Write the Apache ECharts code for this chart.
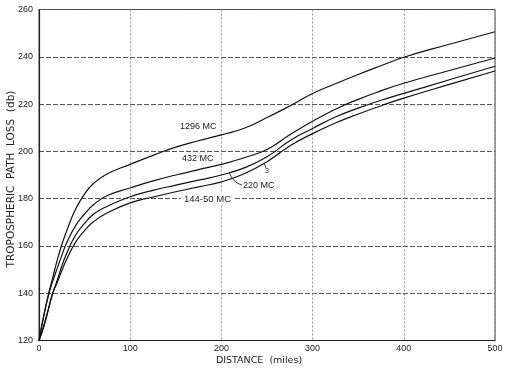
<!DOCTYPE html>
<html>
<head>
<meta charset="utf-8">
<script src="https://cdn.jsdelivr.net/npm/echarts@6/dist/echarts.min.js"></script>
<style>html,body{margin:0;padding:0;background:#fff}#c{width:506px;height:371px}</style>
</head>
<body>
<div id="c"></div>
<script>
// Distance (miles) sample points
const distance = [0, 5, 10, 15, 20, 25, 30, 40, 50, 60, 75, 100, 125, 150, 175, 200, 225, 250, 275, 300, 325, 350, 375, 400, 450, 500];
// Tropospheric path loss (db)
const loss1296 = [120, 130, 139, 146.5, 154, 160.5, 166, 175.5, 182, 186.5, 190.5, 194.5, 198.3, 201.8, 204.5, 207, 209.8, 214.3, 219.2, 224.5, 228.6, 232.5, 236.2, 239.8, 245.3, 250.6];
const loss432  = [120, 130, 138.5, 145, 150.5, 156, 161, 168.5, 173.5, 177.5, 181.3, 184.5, 187.5, 190, 192.3, 194.5, 197.3, 200.8, 207, 212.7, 217.8, 222, 225.6, 228.8, 234.2, 239.5];
const loss220  = [120, 126, 133, 140, 145.5, 151.5, 156.5, 164.5, 169.5, 173.5, 176.8, 180.8, 183.5, 185.7, 187.8, 190, 193, 197.7, 204.5, 209.7, 214.5, 218.3, 221.6, 224.5, 230.3, 236];
const loss144  = [120, 125.5, 132.5, 140, 144.5, 149.5, 154, 161.5, 166.5, 170.3, 174, 178.2, 180.7, 182.9, 185, 187.1, 190.5, 195.6, 202.3, 207.5, 212, 215.8, 219.3, 222.5, 228.3, 234];
const xTicks = [0, 100, 200, 300, 400, 500];
const yTicks = [120, 140, 160, 180, 200, 220, 240, 260];
const seriesNames = ['1296 MC', '432 MC', '220 MC', '144-50 MC'];
const xTitle = 'DISTANCE  (miles)';
const yTitle = 'TROPOSPHERIC  PATH  LOSS  (db)';

const pairs = ys => distance.map((d, i) => [d, ys[i]]);
const all = [loss1296, loss432, loss220, loss144];

const chart = echarts.init(document.getElementById('c'), null, {renderer: 'canvas'});
const txt = '#222';
chart.setOption({
  animation: false,
  backgroundColor: '#fff',
  grid: {left: 39, top: 9.5, width: 456, height: 331, show: true, borderColor: '#444', borderWidth: 1},
  xAxis: {
    type: 'value', min: xTicks[0], max: xTicks[xTicks.length - 1], interval: 100,
    axisLine: {show: true, lineStyle: {color: '#222', width: 1.2}},
    axisTick: {show: false},
    axisLabel: {margin: 4, fontFamily: 'Liberation Sans', fontSize: 9, color: txt},
    splitLine: {show: true, lineStyle: {color: '#888', width: 0.9, type: [2, 2]}}
  },
  yAxis: {
    type: 'value', min: yTicks[0], max: yTicks[yTicks.length - 1], interval: 20,
    axisLine: {show: true, lineStyle: {color: '#222', width: 1.2}},
    axisTick: {show: false},
    axisLabel: {margin: 6, fontFamily: 'Liberation Sans', fontSize: 9, color: txt},
    splitLine: {show: true, lineStyle: {color: '#555', width: 1, type: [5, 2]}}
  },
  series: all.map((ys, k) => ({
    name: seriesNames[k], type: 'line', data: pairs(ys), showSymbol: false,
    smooth: 0.5,
    lineStyle: {color: '#111', width: 1.2}, z: 3
  })),
  graphic: [
    {type: 'text', x: 259, y: 361, z: 10, style: {text: xTitle, font: '9.5px "DejaVu Sans"', fill: txt, align: 'center', verticalAlign: 'middle'}},
    {type: 'text', x: 11, y: 179, rotation: Math.PI / 2, z: 10, style: {text: yTitle, font: '10.5px "DejaVu Sans"', fill: txt, align: 'center', verticalAlign: 'middle'}},
    {type: 'text', left: 180, top: 122, z: 10, style: {text: '1296 MC', font: '9px "Liberation Sans"', fill: txt}},
    {type: 'text', left: 182, top: 154, z: 10, style: {text: '432 MC', font: '9px "Liberation Sans"', fill: txt}},
    {type: 'text', left: 243, top: 181, z: 10, style: {text: '220 MC', font: '9px "Liberation Sans"', fill: txt}},
    {type: 'bezierCurve', z: 10, shape: {x1: 242, y1: 185, x2: 229, y2: 172, cpx1: 233, cpy1: 183}, style: {stroke: '#222', lineWidth: 0.9, fill: null}},
    {type: 'text', left: 181, top: 193, z: 10, style: {text: '144-50 MC', font: '9.5px "Liberation Sans"', fill: txt, backgroundColor: '#fff', padding: [1, 3]}},
    {type: 'text', left: 265, top: 168, z: 10, style: {text: '3', font: '7px "Liberation Sans"', fill: txt}},
    {type: 'line', z: 10, shape: {x1: 266, y1: 168, x2: 264, y2: 163}, style: {stroke: '#222', lineWidth: 0.9}}
  ]
});
</script>
</body>
</html>
